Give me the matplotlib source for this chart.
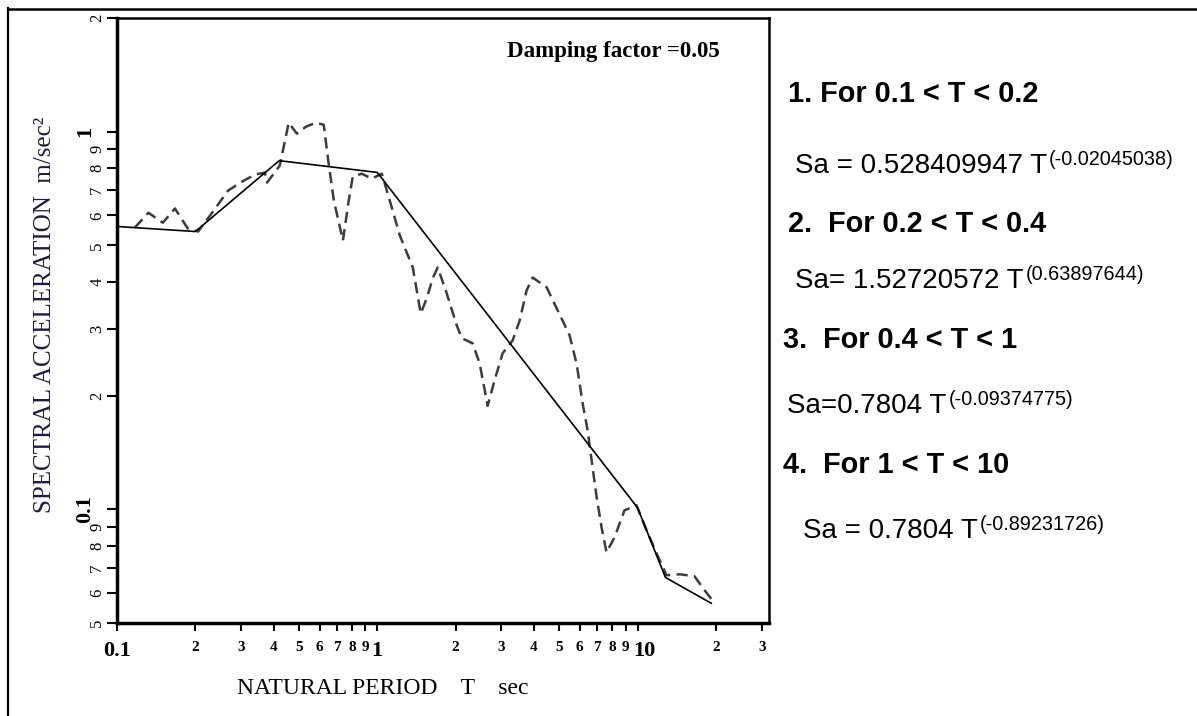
import matplotlib
matplotlib.use("Agg")
import matplotlib.pyplot as plt
from matplotlib.lines import Line2D
from matplotlib.transforms import ScaledTranslation

# fitted piecewise power law (solid)
fit_T = [0.1, 0.2, 0.42, 1.0, 10.0, 12.8, 19.2]
fit_Sa = [0.561, 0.544, 0.838, 0.78, 0.101, 0.066, 0.0564]

# response spectrum (dashed)
spec_T = [0.117, 0.132, 0.150, 0.167, 0.187, 0.205, 0.232, 0.267, 0.302, 0.339,
          0.370, 0.377, 0.422, 0.442, 0.457, 0.491, 0.532, 0.581, 0.623, 0.646,
          0.681, 0.738, 0.777, 0.805, 0.872, 0.953, 1.041, 1.117, 1.221, 1.369,
          1.469, 1.549, 1.633, 1.707, 1.849, 2.02, 2.11, 2.326, 2.475, 2.656,
          2.825, 3.032, 3.313, 3.524, 3.749, 3.954, 4.475, 5.153, 5.48, 5.833,
          6.151, 6.43, 6.66, 6.96, 7.275, 7.6, 8.16, 8.91, 9.91, 10.83,
          11.83, 12.92, 14.5, 16.55, 18.08, 19.4]
spec_Sa = [0.557, 0.610, 0.574, 0.626, 0.554, 0.544, 0.610, 0.698, 0.737, 0.770,
           0.779, 0.733, 0.813, 0.947, 1.056, 0.988, 1.031, 1.056, 1.043, 0.853,
           0.657, 0.515, 0.657, 0.760, 0.774, 0.751, 0.774, 0.657, 0.531, 0.437,
           0.330, 0.362, 0.409, 0.437, 0.373, 0.307, 0.284, 0.275, 0.243, 0.188,
           0.220, 0.259, 0.280, 0.316, 0.380, 0.411, 0.387, 0.316, 0.289, 0.243,
           0.191, 0.162, 0.135, 0.108, 0.0896, 0.0769, 0.0843, 0.0994, 0.1025, 0.088,
           0.0765, 0.0669, 0.0673, 0.0665, 0.0611, 0.0574]

x_major = [0.1, 1, 10]
x_major_labels = ["0.1", "1", "10"]
x_minor = [0.2, 0.3, 0.4, 0.5, 0.6, 0.7, 0.8, 0.9, 2, 3, 4, 5, 6, 7, 8, 9, 20, 30]
x_minor_labels = ["2", "3", "4", "5", "6", "7", "8", "9",
                  "2", "3", "4", "5", "6", "7", "8", "9", "2", "3"]
y_major = [0.1, 1]
y_major_labels = ["0.1", "1"]
y_minor = [0.05, 0.06, 0.07, 0.08, 0.09, 0.2, 0.3, 0.4, 0.5, 0.6, 0.7, 0.8, 0.9, 2]
y_minor_labels = ["5", "6", "7", "8", "9", "2", "3", "4", "5", "6", "7", "8", "9", "2"]

headers = ["1. For 0.1 < T < 0.2", "2.  For 0.2 < T < 0.4",
           "3.  For 0.4 < T < 1", "4.  For 1 < T < 10"]
formulas = ["Sa = 0.528409947 T", "Sa= 1.52720572 T", "Sa=0.7804 T", "Sa = 0.7804 T"]
exponents = ["(-0.02045038)", "(0.63897644)", "(-0.09374775)", "(-0.89231726)"]

W, H = 1197, 716
fig = plt.figure(figsize=(W / 100, H / 100), dpi=100)
ax = fig.add_axes([117 / W, 1 - 623 / H, (769 - 117) / W, (623 - 18) / H])
ax.set_xscale("log")
ax.set_yscale("log")

ax.plot(spec_T, spec_Sa, color="#3c3c3c", lw=1.8, dashes=(4.5, 2.5))
ax.plot(fit_T, fit_Sa, color="black", lw=1.2)

ax.set_xlim(0.1, 32)
ax.set_ylim(0.05, 2)

serif = "Liberation Serif"
ax.set_xticks(x_major, x_major_labels)
ax.set_xticks(x_minor, x_minor_labels, minor=True)
ax.set_yticks(y_major, y_major_labels)
ax.set_yticks(y_minor, y_minor_labels, minor=True)

ax.tick_params(axis="x", which="both", length=6, width=1.5, pad=7, direction="out")
ax.tick_params(axis="y", which="both", length=7, width=1.5, direction="out")
ax.tick_params(axis="y", which="major", pad=9)
ax.tick_params(axis="y", which="minor", pad=1.5)

for lab in ax.get_xticklabels():
    lab.set_fontfamily(serif); lab.set_fontweight("bold"); lab.set_fontsize(16)
for lab in ax.get_xticklabels(minor=True):
    lab.set_fontfamily(serif); lab.set_fontweight("bold"); lab.set_fontsize(11)
for lab in ax.get_yticklabels():
    lab.set_fontfamily(serif); lab.set_fontweight("bold"); lab.set_fontsize(16)
    lab.set_rotation(90); lab.set_va("center")
for lab in ax.get_yticklabels(minor=True):
    lab.set_fontfamily(serif); lab.set_fontsize(12)
    lab.set_rotation(90); lab.set_va("center")

# the "10" label sits a little right of its tick in the original
lab10 = ax.get_xticklabels()[2]
lab10.set_transform(lab10.get_transform() + ScaledTranslation(7 / 100, 0, fig.dpi_scale_trans))

ax.spines["left"].set_linewidth(2.5)
ax.spines["bottom"].set_linewidth(2.5)
ax.spines["top"].set_linewidth(1.8)
ax.spines["right"].set_linewidth(1.8)

fig.text(507 / W, 1 - 52 / H, "Damping factor =0.05", fontfamily=serif,
         fontweight="bold", fontsize=16.5, va="center", ha="left")

fig.text(45 / W, 1 - 315 / H, "SPECTRAL ACCELERATION  m/sec\u00b2", rotation=90,
         ha="center", va="center", fontfamily=serif, fontsize=18, color="#1c1c3c")
fig.text(237 / W, 1 - 689 / H, "NATURAL PERIOD    T    sec", ha="left", va="center",
         fontfamily=serif, fontsize=17, color="black")

# equations on the right
sans = "Liberation Sans"
head_x = [788, 788, 783, 783]
head_base = [102, 232, 348, 473]
form_x = [795, 795, 787, 803]
form_base = [173, 288, 413, 538]
form_texts = []
for i in range(4):
    fig.text(head_x[i] / W, 1 - head_base[i] / H, headers[i], ha="left", va="baseline",
             fontfamily=sans, fontweight="bold", fontsize=20.8)
    t = fig.text(form_x[i] / W, 1 - form_base[i] / H, formulas[i], ha="left",
                 va="baseline", fontfamily=sans, fontsize=20)
    form_texts.append(t)

fig.canvas.draw()
for i, t in enumerate(form_texts):
    bb = t.get_window_extent()
    fig.text((bb.x1 + 2) / W, 1 - (form_base[i] - 8) / H, exponents[i], ha="left",
             va="baseline", fontfamily=sans, fontsize=14.3)

# outer frame (left and top edges)
fig.add_artist(Line2D([8 / W, 8 / W], [0, 1 - 8 / H], color="black", lw=1.6,
                      transform=fig.transFigure))
fig.add_artist(Line2D([8 / W, 1], [1 - 9 / H, 1 - 9 / H], color="black", lw=1.8,
                      transform=fig.transFigure))

fig.savefig("out.png", dpi=100)
